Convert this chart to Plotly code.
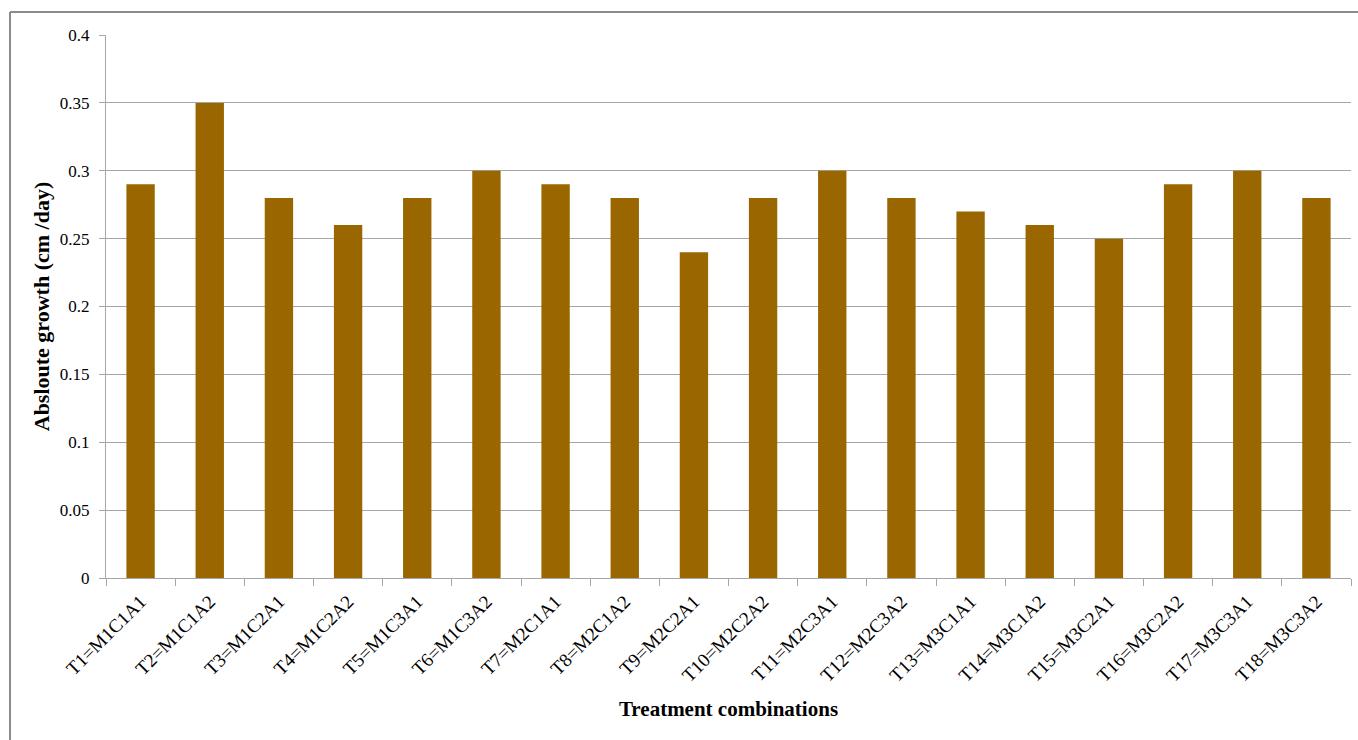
import plotly.graph_objects as go

# Treatment combinations and absolute growth (cm/day)
treatments = [
    "T1=M1C1A1", "T2=M1C1A2", "T3=M1C2A1", "T4=M1C2A2", "T5=M1C3A1", "T6=M1C3A2",
    "T7=M2C1A1", "T8=M2C1A2", "T9=M2C2A1", "T10=M2C2A2", "T11=M2C3A1", "T12=M2C3A2",
    "T13=M3C1A1", "T14=M3C1A2", "T15=M3C2A1", "T16=M3C2A2", "T17=M3C3A1", "T18=M3C3A2",
]
growth = [0.29, 0.35, 0.28, 0.26, 0.28, 0.30, 0.29, 0.28, 0.24,
          0.28, 0.30, 0.28, 0.27, 0.26, 0.25, 0.29, 0.30, 0.28]

W, H = 1358, 740
ML, MR, MT, MB = 106, 7, 35, 162
PW, PH = W - ML - MR, H - MT - MB

FONT = "Liberation Serif, Times New Roman, serif"
AXIS_GRAY = "#a6a6a6"

fig = go.Figure(
    go.Bar(
        x=treatments,
        y=growth,
        marker=dict(color="#996600", line=dict(width=0)),
        width=0.41,
    )
)

fig.update_layout(
    width=W,
    height=H,
    margin=dict(l=ML, r=MR, t=MT, b=MB),
    paper_bgcolor="white",
    plot_bgcolor="white",
    showlegend=False,
    font=dict(family=FONT, size=16, color="black"),
    xaxis=dict(
        tickangle=-45,
        tickson="boundaries",
        ticks="outside",
        ticklen=7,
        tickcolor=AXIS_GRAY,
        showline=True,
        linecolor=AXIS_GRAY,
        linewidth=1,
        showgrid=False,
        tickfont=dict(family=FONT, size=19),
        ticklabelstandoff=4,
        title=dict(text="<b>Treatment combinations</b>",
                   font=dict(family=FONT, size=21), standoff=16),
    ),
    yaxis=dict(
        range=[0, 0.4],
        dtick=0.05,
        ticks="outside",
        ticklen=6,
        tickcolor=AXIS_GRAY,
        showline=True,
        linecolor=AXIS_GRAY,
        linewidth=1,
        showgrid=True,
        gridcolor=AXIS_GRAY,
        gridwidth=1,
        zeroline=False,
        tickfont=dict(family=FONT, size=17),
        ticklabelstandoff=6,
        title=dict(text="<b>Absloute growth (cm /day)</b>",
                   font=dict(family=FONT, size=22), standoff=4),
    ),
)

# Outer chart frame (left and top edges)
x_left = (10 - ML) / PW
y_top = 1 + (MT - 12) / PH
y_bot = -MB / PH
x_right = (W - ML) / PW
fig.add_shape(type="line", xref="paper", yref="paper",
              x0=x_left, x1=x_left, y0=y_bot, y1=y_top,
              line=dict(color="#8c8c8c", width=2))
fig.add_shape(type="line", xref="paper", yref="paper",
              x0=x_left, x1=x_right, y0=y_top, y1=y_top,
              line=dict(color="#8c8c8c", width=2))

fig.write_html("out.html")
